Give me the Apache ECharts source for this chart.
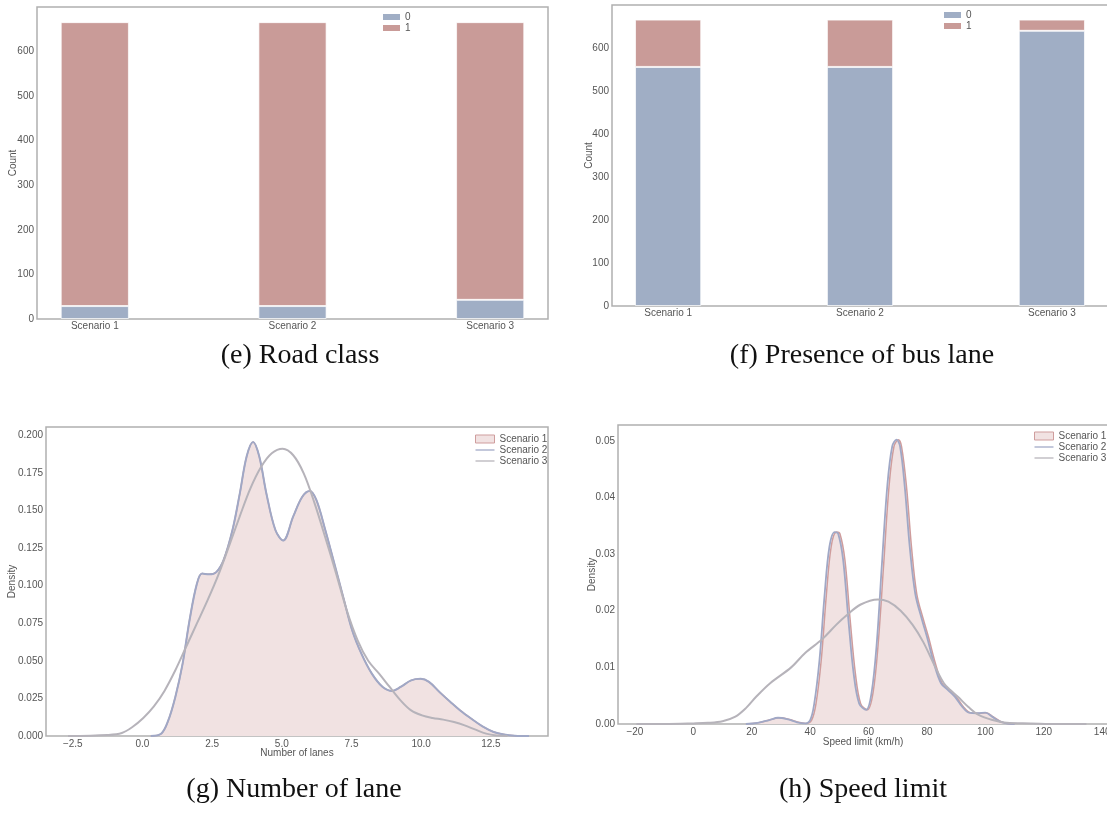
<!DOCTYPE html>
<html><head><meta charset="utf-8">
<script src="https://cdn.jsdelivr.net/npm/echarts@6/dist/echarts.min.js"></script>
<style>html,body{margin:0;padding:0;background:#fff;overflow:hidden;width:1107px;height:816px;position:relative}#c{position:absolute;left:-60px;top:0;width:1240px;height:816px}</style>
</head><body><div id="c"></div>
<script>
// ---------- data ----------
const scenarios = ['Scenario 1', 'Scenario 2', 'Scenario 3'];
const roadClass0 = [29, 29, 43];
const roadClass1 = [637, 637, 623];
const busLane0 = [556, 556, 640];
const busLane1 = [110, 110, 26];
const countTicks = [0, 100, 200, 300, 400, 500, 600];

const laneX12 = [0.3, 0.67, 0.92, 1.18, 1.44, 1.69, 1.95, 2.14, 2.4, 2.65, 2.91, 3.23, 3.49, 3.74, 3.97, 4.19, 4.45, 4.77, 5.05, 5.41, 5.73, 6.0, 6.24, 6.56, 6.88, 7.21, 7.53, 7.85, 8.23, 8.62, 8.96, 9.26, 9.64, 9.98, 10.28, 10.67, 11.05, 11.4, 11.8, 12.2, 12.6, 12.97, 13.36, 13.87];
const laneS1 = [0, 0.0015, 0.010, 0.026, 0.048, 0.077, 0.101, 0.108, 0.1075, 0.109, 0.117, 0.137, 0.161, 0.186, 0.1956, 0.186, 0.161, 0.137, 0.130, 0.146, 0.159, 0.163, 0.157, 0.137, 0.115, 0.092, 0.070, 0.055, 0.0415, 0.0326, 0.030, 0.0326, 0.037, 0.038, 0.036, 0.029, 0.0226, 0.017, 0.0115, 0.0064, 0.0027, 0.001, 0.0002, 0];
const laneS2 = [0, 0.0015, 0.010, 0.026, 0.048, 0.077, 0.101, 0.108, 0.1075, 0.109, 0.117, 0.137, 0.161, 0.186, 0.1956, 0.186, 0.161, 0.137, 0.130, 0.146, 0.159, 0.163, 0.157, 0.137, 0.115, 0.092, 0.070, 0.055, 0.0415, 0.0326, 0.030, 0.0326, 0.037, 0.038, 0.036, 0.029, 0.0226, 0.017, 0.0115, 0.0064, 0.0027, 0.001, 0.0002, 0];
const laneX3 = [-2.67, -1.26, -0.74, -0.36, 0.03, 0.41, 0.79, 1.18, 1.56, 1.95, 2.33, 2.72, 3.10, 3.49, 3.87, 4.26, 4.64, 5.03, 5.41, 5.79, 6.18, 6.56, 6.95, 7.33, 7.72, 8.1, 8.49, 8.87, 9.26, 9.64, 10.03, 10.41, 10.79, 11.18, 11.56, 11.95, 12.33, 12.7, 13.1];
const laneS3 = [0, 0.0007, 0.002, 0.006, 0.012, 0.0197, 0.030, 0.0437, 0.059, 0.0747, 0.090, 0.107, 0.126, 0.146, 0.1645, 0.179, 0.188, 0.191, 0.1867, 0.1745, 0.1545, 0.132, 0.108, 0.0836, 0.0636, 0.050, 0.0415, 0.0326, 0.0237, 0.017, 0.0137, 0.012, 0.0109, 0.0093, 0.0071, 0.0042, 0.0016, 0.0004, 0];
const laneXTicks = [-2.5, 0, 2.5, 5, 7.5, 10, 12.5];
const laneYTicks = [0, 0.025, 0.05, 0.075, 0.1, 0.125, 0.15, 0.175, 0.2];

const speedX1 = [18, 22, 26, 29.5, 33, 36, 38.5, 40.5, 42, 43.8, 45.5, 47.2, 49, 50.2, 51.9, 53.7, 55.5, 57.3, 59.6, 61.5, 63.3, 65.2, 67, 68.7, 70.2, 71.3, 73, 74.7, 76.5, 78.8, 80.5, 82.9, 85.2, 87.6, 90, 92.4, 94.8, 97.7, 100.3, 102.6, 105, 107.5, 110];
const speedX2 = [18, 22, 26, 29, 32.5, 35.5, 38, 40, 41.4, 43.2, 44.9, 46.6, 48.4, 49.6, 51.3, 53.1, 54.9, 56.8, 59.2, 61, 62.8, 64.6, 66.4, 68.1, 69.6, 70.8, 72.4, 74.1, 76, 78.3, 80, 82.4, 84.8, 87.2, 89.6, 92, 94.4, 97.4, 100, 102.3, 104.7, 107.2, 110];
const speedS12 = [0, 0.0002, 0.0007, 0.0011, 0.0008, 0.0003, 0.0001, 0.0007, 0.0036, 0.0113, 0.0225, 0.0313, 0.0339, 0.0336, 0.029, 0.0184, 0.0089, 0.0036, 0.0025, 0.0054, 0.0142, 0.0284, 0.0419, 0.049, 0.0502, 0.049, 0.0419, 0.0313, 0.023, 0.0184, 0.0154, 0.0107, 0.0072, 0.006, 0.0048, 0.0031, 0.002, 0.0019, 0.002, 0.0013, 0.0005, 0.0001, 0];
const speedX3 = [-19.5, -10, 0, 5, 10, 14.4, 18, 21.5, 26.3, 33.5, 38.2, 44.2, 48.9, 52.5, 57.3, 63.2, 66.8, 71, 75.1, 78.7, 82.9, 85.8, 88, 90.6, 94.2, 97.7, 102.5, 107.3, 115.6, 125, 134.6];
const speedS3 = [0, 0, 0.0001, 0.0002, 0.0005, 0.0013, 0.0028, 0.0048, 0.0072, 0.010, 0.0125, 0.015, 0.0175, 0.0192, 0.0211, 0.022, 0.0216, 0.020, 0.0175, 0.0145, 0.010, 0.0072, 0.006, 0.0048, 0.003, 0.0016, 0.0007, 0.0002, 0.0001, 0, 0];
const speedXTicks = [-20, 0, 20, 40, 60, 80, 100, 120, 140];
const speedYTicks = [0, 0.01, 0.02, 0.03, 0.04, 0.05];

const captions = ['(e) Road class', '(f) Presence of bus lane', '(g) Number of lane', '(h) Speed limit'];

// ---------- styling ----------
const OX = 60; // canvas is shifted left by OX so grids may extend past the page edges
const SANS = 'Liberation Sans, Arial, sans-serif';
const SERIF = 'Liberation Serif, Times New Roman, serif';
const TXT = '#555';
const FRAME = '#b0b0b0';
const BLUE = '#a0aec5';
const RED = '#c99b98';
const S1LINE = '#cf9d9d';
const S1FILL = '#f1e2e2';
const S2LINE = '#a0a8c6';
const S3LINE = '#b6b3ba';

const zip = (xs, ys) => xs.map((x, i) => [x, ys[i]]);
const minus = s => String(s).replace('-', '\u2212');

// frame rectangles (layout, page coordinates)
const frames = [
  { left: 37, top: 7, width: 511, height: 312 },
  { left: 612, top: 5, width: 496, height: 301 },
  { left: 46, top: 427, width: 502, height: 309 },
  { left: 618, top: 425, width: 490, height: 299 }
];
const CAT_MIN = -0.2925, CAT_MAX = 2.2925;
const grids = frames.map(g => ({ left: g.left + OX, top: g.top, width: g.width, height: g.height, show: true, borderColor: FRAME, borderWidth: 1.5, backgroundColor: 'transparent' }));
// hidden grids for the bar charts: one category slot per scenario, aligned with the frame's value range
[0, 1].forEach(i => {
  const f = frames[i];
  const u = f.width / (CAT_MAX - CAT_MIN);
  const c0 = f.left - CAT_MIN * u;
  grids.push({ show: false, left: c0 - u / 2 + OX, top: f.top, width: 3 * u, height: f.height });
});

const nameStyle = { fontSize: 10, color: TXT, fontFamily: SANS };
function xAxisCat(gi) {
  return {
    type: 'value', gridIndex: gi, min: CAT_MIN, max: CAT_MAX,
    axisLine: { show: false }, axisTick: { show: false }, splitLine: { show: false },
    axisLabel: { customValues: [0, 1, 2], formatter: v => scenarios[Math.round(v)], fontSize: 10, color: TXT, fontFamily: SANS, margin: 2 }
  };
}
function yAxisVal(gi, min, max, ticks, fmt, name, gap) {
  return {
    type: 'value', gridIndex: gi, min: min, max: max,
    axisLine: { show: false }, axisTick: { show: false }, splitLine: { show: false },
    axisLabel: { customValues: ticks, formatter: fmt, fontSize: 10, color: TXT, fontFamily: SANS, margin: 3 },
    name: name, nameLocation: 'middle', nameGap: gap, nameMoveOverlap: false,
    nameTextStyle: nameStyle
  };
}
function xAxisVal(gi, min, max, ticks, fmt, name, gap) {
  return {
    type: 'value', gridIndex: gi, min: min, max: max,
    axisLine: { show: false }, axisTick: { show: false }, splitLine: { show: false },
    axisLabel: { customValues: ticks, formatter: fmt, fontSize: 10, color: TXT, fontFamily: SANS, margin: 3, showMinLabel: true, showMaxLabel: true },
    name: name, nameLocation: 'middle', nameGap: gap, nameMoveOverlap: false,
    nameTextStyle: nameStyle
  };
}
function hiddenCatX(gi) {
  return { type: 'category', gridIndex: gi, data: scenarios, show: false, boundaryGap: true };
}
function hiddenY(gi) {
  return { type: 'value', gridIndex: gi, min: 0, max: 700, show: false, splitLine: { show: false } };
}

function barSeries(name, axisIdx, vals, color) {
  return {
    type: 'bar', name: name, xAxisIndex: axisIdx, yAxisIndex: axisIdx, stack: 'st' + axisIdx,
    barWidth: '34.5%',
    data: vals,
    itemStyle: { color: color, borderColor: 'rgba(255,255,255,0.7)', borderWidth: 1 },
    emphasis: { disabled: true }
  };
}
function lineSeries(name, gi, pts, color, width, area, z) {
  const s = {
    type: 'line', name: name, xAxisIndex: gi, yAxisIndex: gi, data: pts,
    smooth: 0.35, symbol: 'none', showSymbol: false, z: z,
    lineStyle: { color: color, width: width }, itemStyle: { color: color },
    emphasis: { disabled: true }
  };
  if (area) s.areaStyle = { color: area, opacity: 1 };
  return s;
}

const lineIcon = 'path://M0,0 L24,0 L24,1.6 L0,1.6 Z';
function kdeLegend(left, top) {
  return {
    orient: 'vertical', left: left + OX, top: top, padding: 0, itemGap: 1, itemWidth: 19, itemHeight: 8,
    textStyle: { fontSize: 10, color: TXT, fontFamily: SANS },
    selectedMode: false,
    data: [
      { name: 'Scenario 1', icon: 'rect', itemStyle: { color: S1FILL, borderColor: S1LINE, borderWidth: 1 } },
      { name: 'Scenario 2', icon: lineIcon, itemStyle: { color: S2LINE, borderWidth: 0 }, lineStyle: { width: 0 } },
      { name: 'Scenario 3', icon: lineIcon, itemStyle: { color: S3LINE, borderWidth: 0 }, lineStyle: { width: 0 } }
    ]
  };
}
function barLegend(left, top) {
  return {
    orient: 'vertical', left: left + OX, top: top, padding: 0, itemGap: 1, itemWidth: 17, itemHeight: 6,
    textStyle: { fontSize: 10, color: TXT, fontFamily: SANS }, selectedMode: false,
    data: [{ name: '0', icon: 'rect', itemStyle: { color: BLUE, borderWidth: 0 } }, { name: '1', icon: 'rect', itemStyle: { color: RED, borderWidth: 0 } }]
  };
}
function caption(text, cx, top) {
  return { text: text, left: cx + OX, top: top, textAlign: 'center', padding: 0,
    textStyle: { fontFamily: SERIF, fontSize: 28, fontWeight: 'normal', color: '#111' } };
}

const fmt3 = v => minus(v.toFixed(3));
const fmt2 = v => minus(v.toFixed(2));
const fmt1 = v => minus(v.toFixed(1));
const fmt0 = v => minus(Math.round(v));

const option = {
  animation: false,
  backgroundColor: '#fff',
  title: [caption(captions[0], 300, 342), caption(captions[1], 862, 342), caption(captions[2], 294, 776), caption(captions[3], 863, 776)],
  legend: [barLegend(383, 12), barLegend(944, 10), kdeLegend(475, 434), kdeLegend(1034, 431)],
  grid: grids,
  xAxis: [
    xAxisCat(0), xAxisCat(1),
    xAxisVal(2, -3.46, 14.55, laneXTicks, fmt1, 'Number of lanes', 12),
    xAxisVal(3, -25.8, 142, speedXTicks, fmt0, 'Speed limit (km/h)', 13),
    hiddenCatX(4), hiddenCatX(5)
  ],
  yAxis: [
    yAxisVal(0, 0, 700, countTicks, fmt0, 'Count', 19),
    yAxisVal(1, 0, 700, countTicks, fmt0, 'Count', 18),
    yAxisVal(2, 0, 0.2055, laneYTicks, fmt3, 'Density', 29),
    yAxisVal(3, 0, 0.0528, speedYTicks, fmt2, 'Density', 21),
    hiddenY(4), hiddenY(5)
  ],
  series: [
    barSeries('0', 4, roadClass0, BLUE), barSeries('1', 4, roadClass1, RED),
    barSeries('0', 5, busLane0, BLUE), barSeries('1', 5, busLane1, RED),
    lineSeries('Scenario 1', 2, zip(laneX12, laneS1), S1LINE, 1.5, S1FILL, 1),
    lineSeries('Scenario 2', 2, zip(laneX12, laneS2), S2LINE, 2, null, 3),
    lineSeries('Scenario 3', 2, zip(laneX3, laneS3), S3LINE, 2, null, 4),
    lineSeries('Scenario 1', 3, zip(speedX1, speedS12), S1LINE, 1.5, S1FILL, 1),
    lineSeries('Scenario 2', 3, zip(speedX2, speedS12), S2LINE, 1.8, null, 3),
    lineSeries('Scenario 3', 3, zip(speedX3, speedS3), S3LINE, 2, null, 4)
  ]
};
const chart = echarts.init(document.getElementById('c'), null, { renderer: 'canvas' });
chart.setOption(option);
</script></body></html>
